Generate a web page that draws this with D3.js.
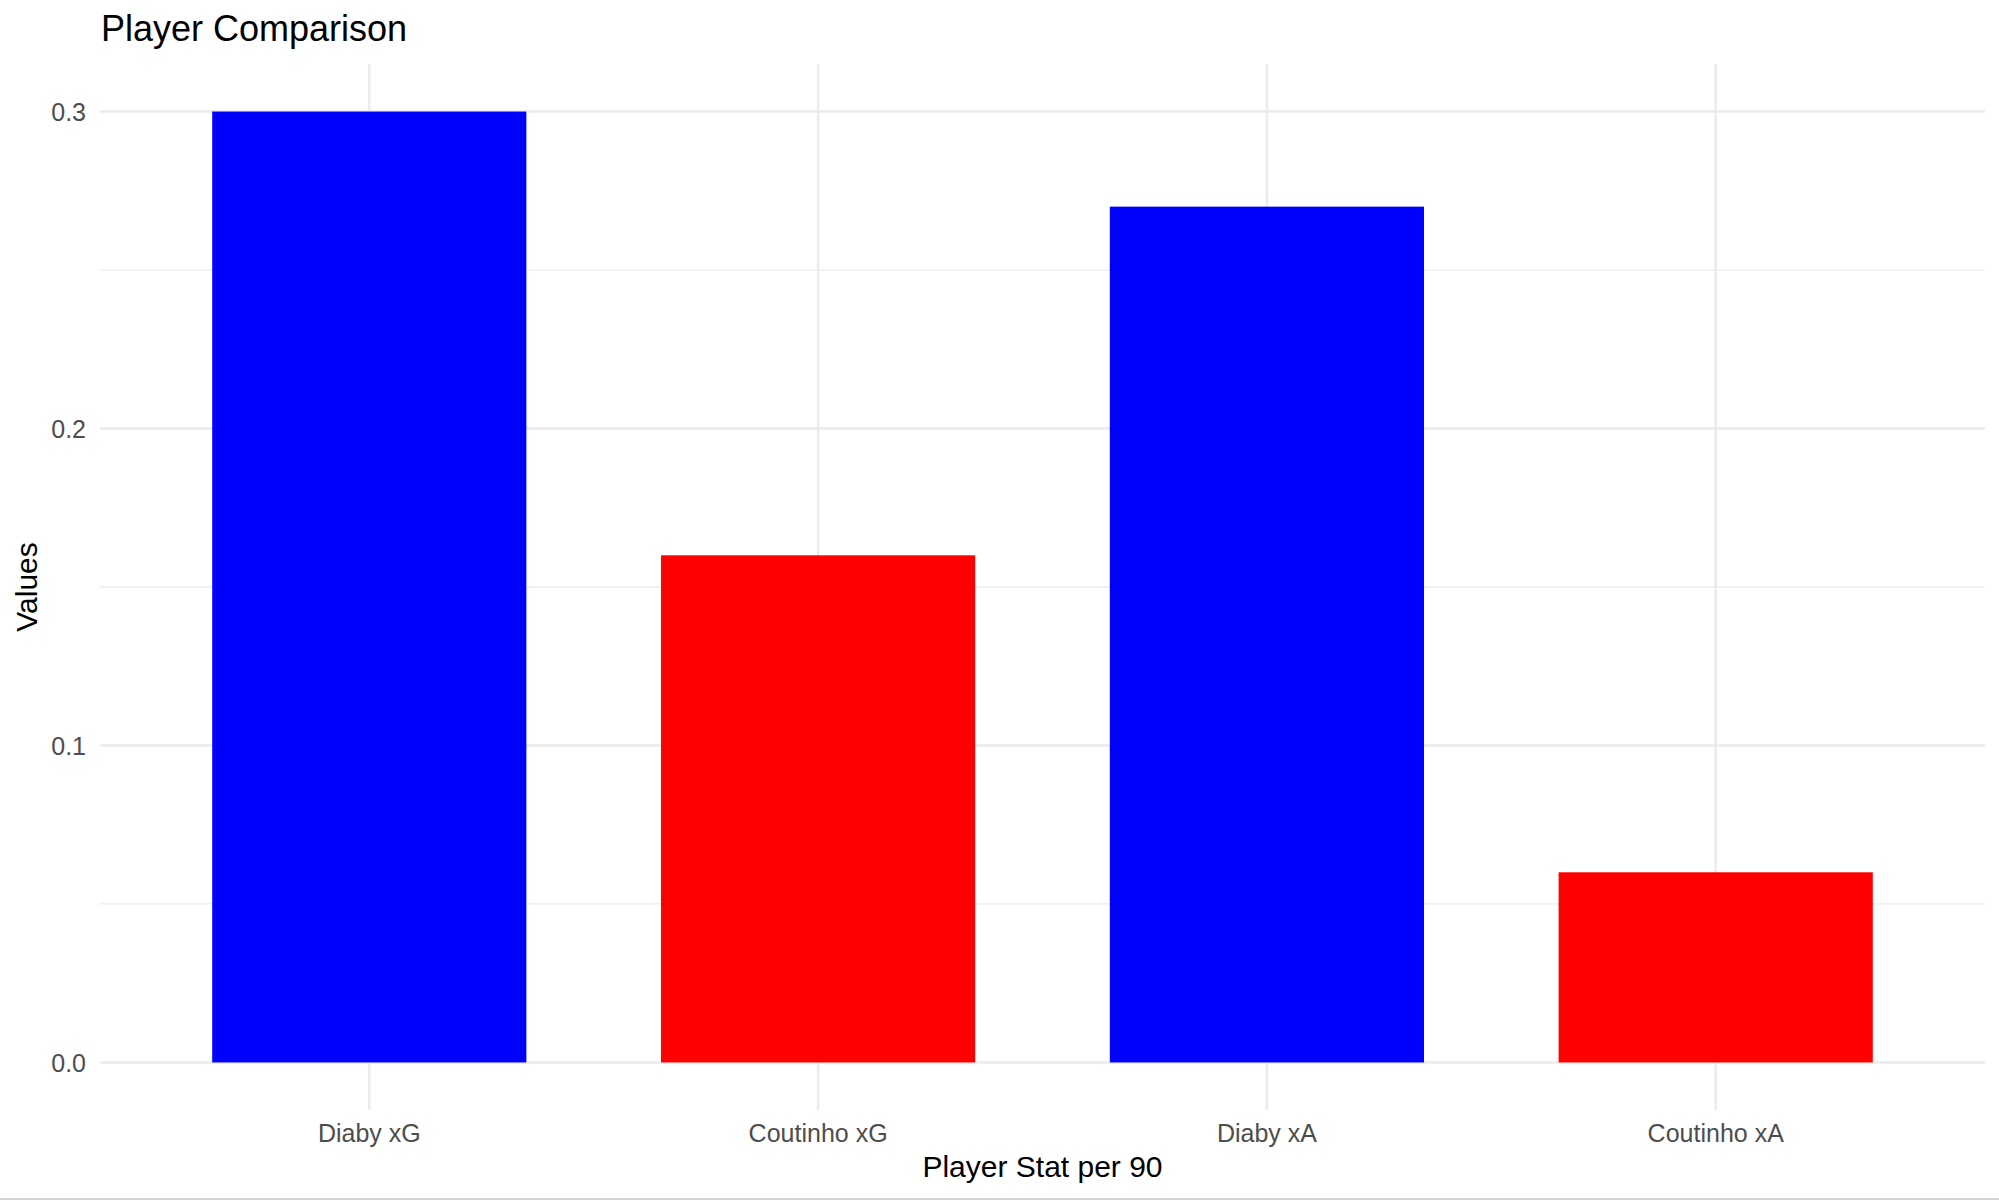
<!DOCTYPE html>
<html>
<head>
<meta charset="utf-8">
<script src="https://cdn.jsdelivr.net/npm/d3@7"></script>
<style>
  html, body { margin: 0; padding: 0; background: #fff; }
  svg { display: block; font-family: "Liberation Sans", Arial, sans-serif; }
  .tick text { fill: #4d4d4d; font-size: 25px; }
  .domain { display: none; }
</style>
</head>
<body>
<svg id="chart" width="1999" height="1200"></svg>
<script>
let categories = ['Diaby xG', 'Coutinho xG', 'Diaby xA', 'Coutinho xA']
let players = ['Diaby', 'Coutinho', 'Diaby', 'Coutinho']
let values = [0.30, 0.16, 0.27, 0.06]
let yTicks = [0, 0.1, 0.2, 0.3]
let yMinorTicks = [0.05, 0.15, 0.25]

let svg = d3.select('svg#chart')
let width = +svg.attr('width')
let height = +svg.attr('height')
let margin = {top: 64, right: 14, bottom: 90, left: 100}
let plotW = width - margin.left - margin.right
let plotH = height - margin.top - margin.bottom

let g = svg.append('g').attr('transform', 'translate(' + margin.left + ',' + margin.top + ')')

// ggplot-like discrete expansion: 0.6 of a step each side, bars 0.7 wide
let x = d3.scaleBand()
    .domain(categories)
    .range([0, plotW])
    .paddingInner(0.3)
    .paddingOuter(0.25)

// 5% expansion on the continuous axis
let yMax = d3.max(values)
let pad = yMax * 0.05
let y = d3.scaleLinear()
    .domain([-pad, yMax + pad])
    .range([plotH, 0])

let color = d3.scaleOrdinal()
    .domain(['Diaby', 'Coutinho'])
    .range(['#0000ff', '#ff0000'])

// minor grid
g.selectAll('.minor')
    .data(yMinorTicks)
    .enter().append('line')
    .attr('x1', 0).attr('x2', plotW)
    .attr('y1', d => y(d)).attr('y2', d => y(d))
    .attr('stroke', '#ebebeb')
    .attr('stroke-width', 1.3)

// major grid
g.selectAll('.major-y')
    .data(yTicks)
    .enter().append('line')
    .attr('x1', 0).attr('x2', plotW)
    .attr('y1', d => y(d)).attr('y2', d => y(d))
    .attr('stroke', '#ebebeb')
    .attr('stroke-width', 2.4)

g.selectAll('.major-x')
    .data(categories)
    .enter().append('line')
    .attr('x1', d => x(d) + x.bandwidth() / 2)
    .attr('x2', d => x(d) + x.bandwidth() / 2)
    .attr('y1', 0).attr('y2', plotH)
    .attr('stroke', '#ebebeb')
    .attr('stroke-width', 2.4)

// bars
g.selectAll('.bar')
    .data(categories)
    .enter().append('rect')
    .attr('class', 'bar')
    .attr('x', d => x(d))
    .attr('width', x.bandwidth())
    .attr('y', (d, i) => y(values[i]))
    .attr('height', (d, i) => y(0) - y(values[i]))
    .attr('fill', (d, i) => color(players[i]))

// axes (labels only)
g.append('g')
    .attr('transform', 'translate(0,' + plotH + ')')
    .call(d3.axisBottom(x).tickSize(0).tickPadding(14))
    .selectAll('text').attr('dy', '0.71em')

g.append('g')
    .call(d3.axisLeft(y).tickValues(yTicks).tickFormat(d3.format('.1f')).tickSize(0).tickPadding(14))
    .selectAll('text').attr('dy', '0.35em')

// titles
svg.append('text')
    .attr('x', margin.left + 1)
    .attr('y', 41)
    .attr('font-size', 36)
    .attr('fill', '#000')
    .text('Player Comparison')

svg.append('text')
    .attr('x', margin.left + plotW / 2)
    .attr('y', 1177)
    .attr('text-anchor', 'middle')
    .attr('font-size', 30)
    .attr('fill', '#000')
    .text('Player Stat per 90')

svg.append('text')
    .attr('transform', 'translate(37,' + (margin.top + plotH / 2) + ') rotate(-90)')
    .attr('text-anchor', 'middle')
    .attr('font-size', 30)
    .attr('fill', '#000')
    .text('Values')

// thin grey edge along the bottom of the picture
svg.append('rect')
    .attr('x', 0).attr('y', height - 2)
    .attr('width', width).attr('height', 2)
    .attr('fill', '#d4d4d4')
</script>
</body>
</html>
